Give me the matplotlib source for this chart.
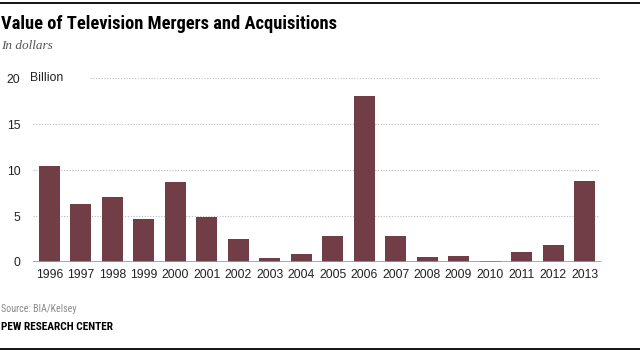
import matplotlib
matplotlib.use("Agg")
import matplotlib.pyplot as plt
from matplotlib.lines import Line2D

years = ["1996", "1997", "1998", "1999", "2000", "2001", "2002", "2003", "2004",
         "2005", "2006", "2007", "2008", "2009", "2010", "2011", "2012", "2013"]
values = [10.4, 6.3, 7.1, 4.7, 8.7, 4.9, 2.5, 0.43, 0.87,
          2.85, 18.05, 2.85, 0.55, 0.65, 0.12, 1.1, 1.85, 8.8]
yticks = [0, 5, 10, 15, 20]
ytick_labels = ["0", "5", "10", "15", "20"]

W, H = 640, 351
fig = plt.figure(figsize=(6.4, 3.51), dpi=100)

narrow = ["Liberation Sans Narrow", "Roboto Condensed", "IBM Plex Sans Condensed", "DejaVu Sans"]
sans = ["Liberation Sans", "DejaVu Sans"]

ax_left, ax_right = 33, 601
ax_bottom, ax_top = 262, 78.3
ax = fig.add_axes([ax_left / W, (H - ax_bottom) / H, (ax_right - ax_left) / W, (ax_bottom - ax_top) / H])

x = list(range(len(years)))
ax.bar(x, values, width=0.667, color="#713d47", zorder=3)
ax.set_xlim(-0.524, 17.524)
ax.set_ylim(0, 20)

for s in ax.spines.values():
    s.set_visible(False)
ax.axhline(0, color="#999999", lw=1.2, zorder=4)
grid_end = (599 - ax_left) / (ax_right - ax_left)
for v in yticks[1:-1]:
    ax.axhline(v, color="#bbbbbb", lw=0.8, ls=(0, (1, 1.5)), zorder=1, xmax=grid_end)
ax.axhline(20, color="#bbbbbb", lw=0.8, ls=(0, (1, 1.5)), zorder=1,
           xmin=(90 - ax_left) / (ax_right - ax_left), xmax=grid_end)

ax.set_xticks(x)
ax.set_xticklabels(years, fontfamily=sans, fontsize=8.8, color="#222222")
ax.set_yticks(yticks)
ax.set_yticklabels(ytick_labels, fontfamily=sans, fontsize=8.8, color="#222222")
ax.tick_params(axis="both", length=0)
ax.tick_params(axis="y", pad=9)
ax.tick_params(axis="x", pad=5)

fig.text(30 / W, 1 - 78.3 / H, "Billion", fontfamily=sans, fontsize=8.8, color="#222222",
         ha="left", va="center")

# top and bottom rules
fig.add_artist(Line2D([0, 1], [1 - 3 / H, 1 - 3 / H], color="black", lw=1.3))
fig.add_artist(Line2D([0, 1], [1 - 348.5 / H, 1 - 348.5 / H], color="black", lw=1.3))

fig.text(1 / W, 1 - 24 / H, "Value of Television Mergers and Acquisitions", fontfamily=narrow,
         fontweight="bold", fontsize=13.3, color="black", ha="left", va="center")
fig.text(1 / W, 1 - 46 / H, "In dollars", fontfamily=["Liberation Serif", "DejaVu Serif"],
         fontstyle="italic", fontsize=9.5, color="#555555", ha="left", va="center")
fig.text(1 / W, 1 - 309.5 / H, "Source: BIA/Kelsey", fontfamily=narrow, fontsize=7.2,
         color="#8a8a8a", ha="left", va="center")
fig.text(1 / W, 1 - 326.5 / H, "PEW RESEARCH CENTER", fontfamily=narrow, fontweight="bold",
         fontsize=8.2, color="black", ha="left", va="center")

fig.savefig("out.png", dpi=100)
